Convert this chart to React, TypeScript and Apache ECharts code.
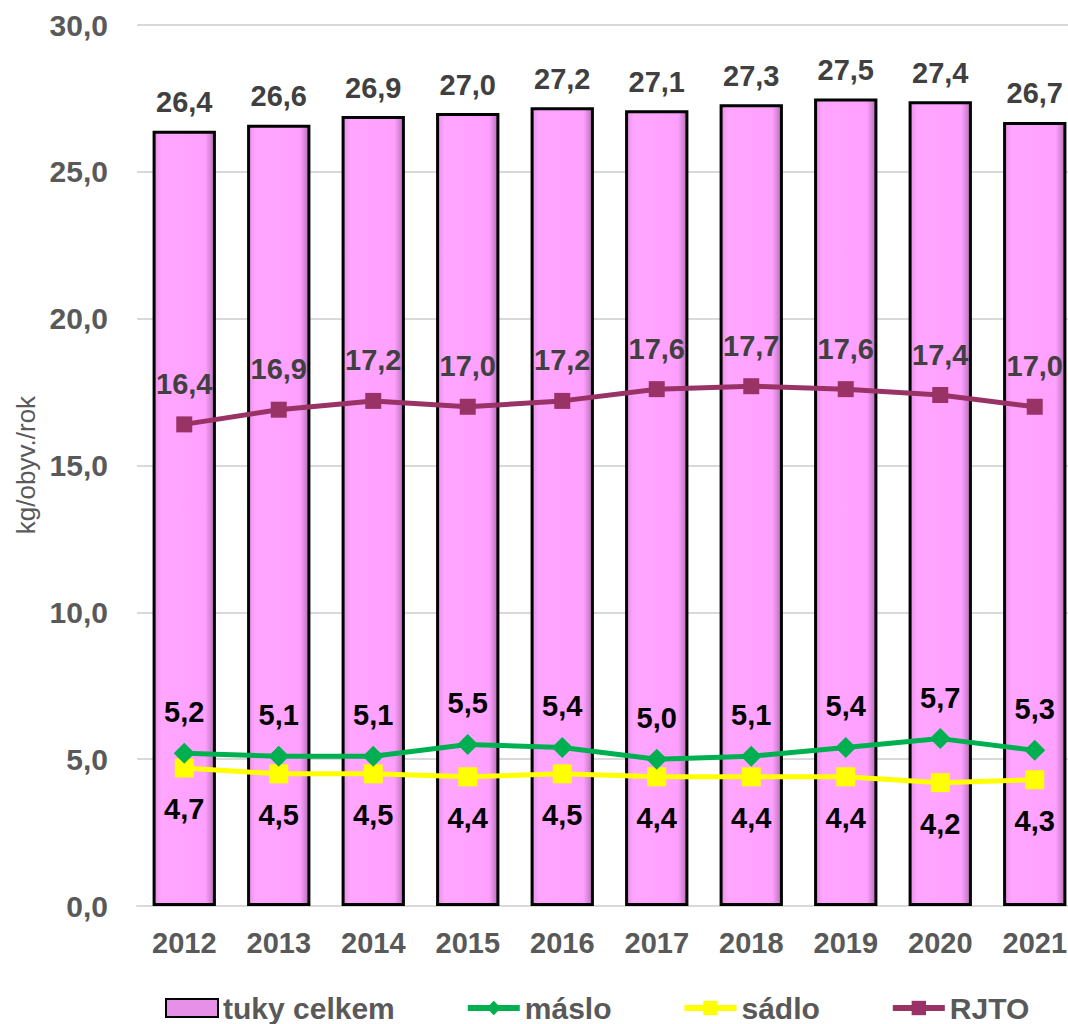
import React, { useEffect, useRef } from "react";
import * as echarts from "echarts";

const years = ["2012", "2013", "2014", "2015", "2016", "2017", "2018", "2019", "2020", "2021"];
const tukyCelkem = [26.4, 26.6, 26.9, 27.0, 27.2, 27.1, 27.3, 27.5, 27.4, 26.7];
const maslo = [5.2, 5.1, 5.1, 5.5, 5.4, 5.0, 5.1, 5.4, 5.7, 5.3];
const sadlo = [4.7, 4.5, 4.5, 4.4, 4.5, 4.4, 4.4, 4.4, 4.2, 4.3];
const rjto = [16.4, 16.9, 17.2, 17.0, 17.2, 17.6, 17.7, 17.6, 17.4, 17.0];
const yTitle = "kg/obyv./rok";

const FONT = "'Liberation Sans', Arial, sans-serif";
const fmt = (v: number) => v.toFixed(1).replace(".", ",");

export default function App() {
  const ref = useRef<HTMLDivElement>(null);
  useEffect(() => {
    if (!ref.current) return;
    const chart = echarts.init(ref.current, null, { renderer: "svg" });
    const barColor = new echarts.graphic.LinearGradient(0, 0, 1, 0, [
      { offset: 0, color: "#E98FE9" },
      { offset: 0.12, color: "#FFA6FF" },
      { offset: 0.85, color: "#FFA0FF" },
      { offset: 1, color: "#B86FB8" },
    ]);
    const lbl = (color: string, position: string, distance: number) => ({
      show: true,
      position,
      distance,
      color,
      fontFamily: FONT,
      fontWeight: "bold",
      fontSize: 29,
      formatter: (p: any) => fmt(p.value),
    });
    chart.setOption({
      animation: false,
      backgroundColor: "#ffffff",
      textStyle: { fontFamily: FONT },
      grid: { left: 137, top: 25, bottom: 118, width: 945, containLabel: false, outerBoundsMode: "none" },
      graphic: [
        {
          type: "text",
          x: 26,
          y: 465,
          rotation: Math.PI / 2,
          style: {
            text: yTitle,
            fill: "#595959",
            fontFamily: FONT,
            fontSize: 26,
            align: "center",
            verticalAlign: "middle",
          },
        },
      ],
      legend: {
        left: 160,
        top: 988,
        itemGap: 70,
        itemWidth: 52,
        itemHeight: 18,
        textStyle: { fontFamily: FONT, fontWeight: "bold", fontSize: 30, color: "#595959" },
        data: [
          { name: "tuky celkem", icon: "rect", itemStyle: { color: "#E790E7", borderColor: "#000", borderWidth: 2 } },
          { name: "máslo", lineStyle: { width: 6 } },
          { name: "sádlo", lineStyle: { width: 6 } },
          { name: "RJTO", lineStyle: { width: 6 } },
        ],
      },
      xAxis: {
        type: "category",
        data: years,
        axisLine: { show: true, lineStyle: { color: "#D9D9D9", width: 2 } },
        axisTick: { show: false },
        axisLabel: { color: "#595959", fontFamily: FONT, fontWeight: "bold", fontSize: 29, margin: 22 },
      },
      yAxis: {
        type: "value",
        min: 0,
        max: 30,
        interval: 5,
        axisLine: { show: false },
        axisTick: { show: false },
        splitLine: { lineStyle: { color: "#D9D9D9", width: 2 } },
        axisLabel: {
          color: "#595959",
          fontFamily: FONT,
          fontWeight: "bold",
          fontSize: 30,
          margin: 29,
          formatter: (v: number) => fmt(v),
        },
      },
      series: [
        {
          name: "tuky celkem",
          type: "bar",
          data: tukyCelkem,
          barCategoryGap: "33%",
          itemStyle: { color: barColor, borderColor: "#000", borderWidth: 3 },
          label: lbl("#404040", "top", 14),
          z: 1,
        },
        {
          name: "máslo",
          type: "line",
          data: maslo,
          symbol: "diamond",
          symbolSize: 21,
          lineStyle: { color: "#00B050", width: 5 },
          itemStyle: { color: "#00B050" },
          label: lbl("#000000", "top", 16),
          z: 4,
        },
        {
          name: "sádlo",
          type: "line",
          data: sadlo,
          symbol: "rect",
          symbolSize: 19,
          lineStyle: { color: "#FFFF00", width: 5 },
          itemStyle: { color: "#FFFF00" },
          label: lbl("#000000", "bottom", 17),
          z: 3,
        },
        {
          name: "RJTO",
          type: "line",
          data: rjto,
          symbol: "rect",
          symbolSize: 16,
          lineStyle: { color: "#993366", width: 5 },
          itemStyle: { color: "#993366" },
          label: lbl("#404040", "top", 18),
          z: 3,
        },
      ],
    });
    return () => chart.dispose();
  }, []);
  return <div ref={ref} style={{ position: "absolute", left: 0, top: 0, width: 1068, height: 1024 }} />;
}
